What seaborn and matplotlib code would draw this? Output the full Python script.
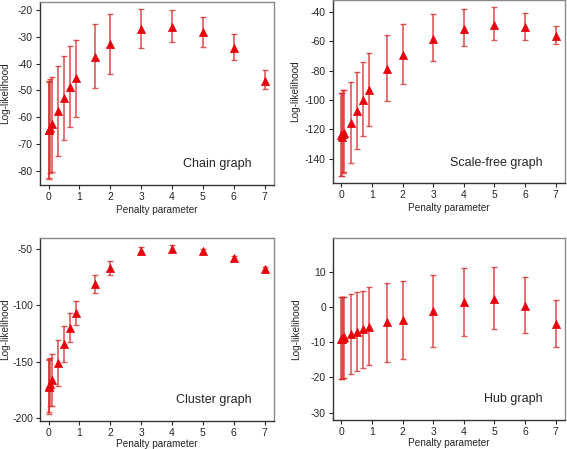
import numpy as np
import pandas as pd
import matplotlib
matplotlib.use("Agg")
import matplotlib.pyplot as plt
import seaborn as sns

# ---- data ----
penalty = [0, 0.01, 0.05, 0.1, 0.3, 0.5, 0.7, 0.9, 1.5, 2, 3, 4, 5, 6, 7]

chain_mean  = [-64.8, -65.0, -64.0, -62.7, -57.7, -53.0, -48.9, -45.5, -37.4, -32.8, -27.0, -26.2, -28.3, -34.0, -46.4]
chain_upper = [-46.5, -47.0, -45.8, -45.0, -40.7, -37.0, -33.3, -31.0, -25.2, -21.5, -19.6, -20.0, -22.5, -28.8, -42.4]
chain_lower = [-82.9, -83.0, -81.0, -80.4, -74.4, -68.6, -63.7, -60.0, -49.1, -43.7, -34.1, -32.0, -33.6, -38.7, -49.5]

scale_mean  = [-124.1, -125.0, -123.0, -122.3, -115.7, -107.7, -99.8, -93.4, -78.6, -69.5, -58.6, -52.0, -48.9, -50.7, -56.4]
scale_upper = [-95.2, -95.0, -93.4, -93.0, -87.7, -81.0, -74.0, -68.0, -55.5, -48.6, -41.8, -38.4, -36.6, -41.1, -49.8]
scale_lower = [-151.8, -152.0, -149.8, -149.0, -142.7, -133.4, -124.8, -117.7, -100.7, -88.9, -73.6, -63.4, -59.5, -59.5, -62.0]

cluster_mean  = [-173.0, -172.0, -170.4, -166.5, -151.7, -134.5, -120.0, -107.2, -81.1, -66.6, -51.2, -49.4, -51.8, -58.0, -67.2]
cluster_upper = [-148.7, -148.0, -146.6, -143.7, -131.2, -118.2, -106.6, -96.2, -72.5, -60.0, -47.9, -46.4, -49.4, -56.2, -65.7]
cluster_lower = [-196.5, -195.0, -190.0, -189.6, -172.0, -150.2, -132.4, -117.6, -88.8, -73.1, -54.4, -52.0, -53.9, -60.1, -69.0]

hub_mean  = [-9.1, -9.0, -8.7, -8.6, -7.8, -7.0, -6.3, -5.7, -4.4, -3.7, -1.2, 1.3, 2.4, 0.4, -4.8]
hub_upper = [2.9, 2.9, 2.9, 2.9, 3.6, 4.2, 4.6, 5.6, 6.9, 7.4, 9.1, 11.1, 11.4, 8.4, 2.0]
hub_lower = [-20.4, -20.4, -20.3, -20.1, -18.9, -18.1, -17.2, -16.5, -15.5, -14.8, -11.4, -8.2, -6.2, -7.3, -11.5]

titles = ["Chain graph", "Scale-free graph", "Cluster graph", "Hub graph"]
yticks_list = [[-80, -70, -60, -50, -40, -30, -20],
               [-140, -120, -100, -80, -60, -40],
               [-200, -150, -100, -50],
               [-30, -20, -10, 0, 10]]
xticks = [0, 1, 2, 3, 4, 5, 6, 7]

# ---- style ----
sns.set_style("ticks")
plt.rcParams['font.family'] = ['Liberation Sans', 'DejaVu Sans']
plt.rcParams['axes.unicode_minus'] = False

fig = plt.figure(figsize=(5.67, 4.49), dpi=100)

panels = [
    (chain_mean, chain_lower, chain_upper, (-85.4, -16.9), [0.0705, 0.588, 0.4125, 0.4075], -0.15, -0.137),
    (scale_mean, scale_lower, scale_upper, (-156.6, -32.0), [0.587, 0.592, 0.409, 0.408], -0.164, -0.137),
    (cluster_mean, cluster_lower, cluster_upper, (-203.0, -39.9), [0.0705, 0.0624, 0.4125, 0.4076], -0.15, -0.125),
    (hub_mean, hub_lower, hub_upper, (-32.1, 19.6), [0.587, 0.0646, 0.409, 0.4054], -0.16, -0.125),
]

bar_color = "#d83030"
marker_color = "#e8000a"

for i, (m, lo, up, ylim, pos, ylx, xly) in enumerate(panels):
    ax = fig.add_axes(pos)
    df = pd.DataFrame({"penalty": penalty, "mean": m, "lower": lo, "upper": up})
    yerr = np.array([df["mean"] - df["lower"], df["upper"] - df["mean"]])
    ax.errorbar(df["penalty"], df["mean"], yerr=yerr, fmt="none",
                ecolor=bar_color, elinewidth=1.2, capsize=2.5, capthick=1.0, alpha=0.8, zorder=2)
    sns.scatterplot(data=df, x="penalty", y="mean", marker="^", s=34,
                    color=marker_color, edgecolor=marker_color, linewidth=0.5, ax=ax, zorder=3)
    ax.set_xlim(-0.28, 7.3)
    ax.set_ylim(*ylim)
    ax.set_xticks(xticks)
    ax.set_yticks(yticks_list[i])
    ax.tick_params(axis="both", labelsize=7.5, length=3, width=0.8, pad=2, direction="out")
    ax.set_xlabel("Penalty parameter", fontsize=7.2, va="center")
    ax.set_ylabel("Log-likelihood", fontsize=7.2, va="center")
    ax.xaxis.set_label_coords(0.5, xly)
    ax.yaxis.set_label_coords(ylx, 0.5)
    for s in ["left", "bottom"]:
        ax.spines[s].set_color("#333333")
        ax.spines[s].set_linewidth(1.0)
    for s in ["top", "right"]:
        ax.spines[s].set_visible(True)
        ax.spines[s].set_color("#8a8a8a")
        ax.spines[s].set_linewidth(1.0)
    ax.text(0.905, 0.08, titles[i], transform=ax.transAxes, ha="right", va="bottom",
            fontsize=9)

fig.savefig("out.png", dpi=100)
